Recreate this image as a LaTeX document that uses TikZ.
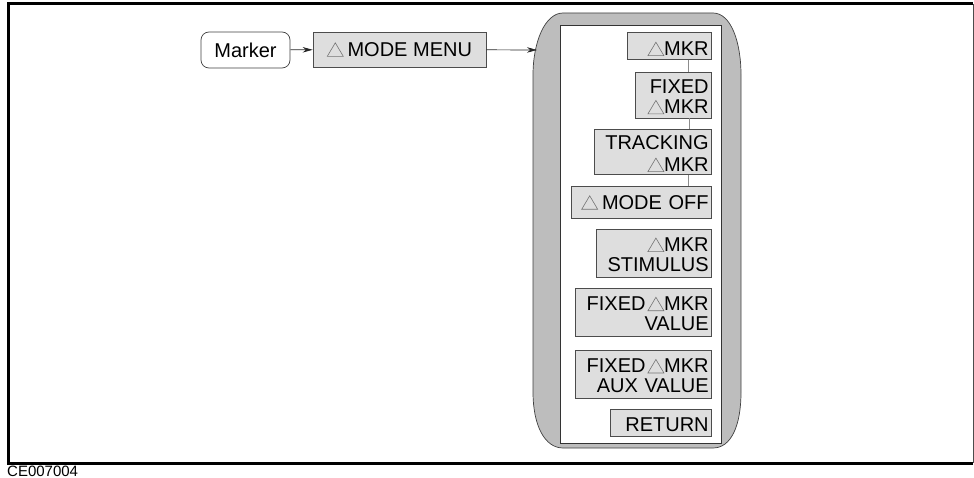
\documentclass[tikz,border=0pt]{standalone}
\usepackage{fontspec}
\setmainfont{Liberation Sans}
\usetikzlibrary{arrows.meta, positioning}

% outlined delta used in the key labels
\newcommand{\dtri}{\tikz[x=1pt,y=1pt,baseline=0pt]\draw[black!55,line width=0.6pt,fill=none] (0,0) -- (16,0) -- (8,13.5) -- cycle;}
\newcommand{\kstrut}[1]{\rule{0pt}{#1pt}}

\begin{document}
\begin{tikzpicture}[
  x=1pt, y=-1pt,
  font=\fontsize{20}{20}\selectfont,
  >={Stealth[length=10pt,width=5.5pt]},
  keybox/.style={rectangle, draw=black!70, fill=black!13, align=right, inner xsep=3pt, inner ysep=0pt, line width=0.7pt},
  hardkey/.style={rectangle, rounded corners=8pt, draw=black!75, fill=white, inner sep=0pt, minimum width=89pt, minimum height=36pt, line width=0.7pt},
  panel/.style={draw=black!75, fill=black!26, line width=0.7pt},
  a/.style={->, line width=0.7pt, black!85},
  link/.style={black!45, line width=0.8pt},
  node distance=11pt,
]
\useasboundingbox (0,0) rectangle (974,478);
% frame
\draw[line width=3pt] (973,463) -- (8,463) -- (8,4) -- (973,4);
\draw[line width=1pt, black!70] (973,4) -- (973,463);
% softkey panel
\draw[panel] (563,13) -- (713,13) .. controls (731,13) and (741,42) .. (741,75) -- (741,392) .. controls (741,426) and (731,448) .. (713,448) -- (563,448) .. controls (545,448) and (533,426) .. (533,392) -- (533,75) .. controls (533,42) and (545,13) .. (563,13) -- cycle;
\draw[draw=black!80, fill=white, line width=0.8pt] (560,25) rectangle (721,443);
\coordinate (panel) at (537,50);

\node[hardkey] (marker) at (245.5,50) {Marker};
\node[keybox, align=center, minimum width=173pt, minimum height=35pt] (modemenu) at (399.5,49.5) {\dtri\hspace{4pt}MODE MENU};

\node[keybox, anchor=north east, text width=78pt, minimum height=27pt] (mkr) at (712,32) {\kstrut{20}\dtri MKR};
\node[keybox, below left=12pt and 0pt of mkr.south east, text width=70pt, minimum height=46pt] (fixed) {\kstrut{18}FIXED\\\dtri MKR};
\node[keybox, below left=11pt and 0pt of fixed.south east, text width=111pt, minimum height=45pt] (tracking) {\kstrut{17}TRACKING\\[2pt]\dtri MKR};
\node[keybox, below left=11pt and 0pt of tracking.south east, text width=134pt, minimum height=32pt] (modeoff) {\dtri\hspace{4pt}MODE OFF};
\node[keybox, below left=10pt and 0pt of modeoff.south east, text width=109pt, minimum height=48pt] (stimulus) {\kstrut{17}\dtri MKR\\STIMULUS};
\node[keybox, below left=11pt and 0pt of stimulus.south east, text width=130pt, minimum height=47pt] (fixedval) {\kstrut{17}FIXED\hspace{2pt}\dtri MKR\\VALUE};
\node[keybox, below left=14pt and 0pt of fixedval.south east, text width=130pt, minimum height=48pt] (auxval) {\kstrut{17}FIXED\hspace{2pt}\dtri MKR\\AUX VALUE};
\node[keybox, below left=10pt and 0pt of auxval.south east, text width=95pt, minimum height=27pt] (return) {\kstrut{18}RETURN};

\node[font=\fontsize{15}{15}\selectfont, anchor=base west, inner sep=0pt] (code) at (7,476) {CE007004};

% arrows
\draw[a] (marker) -- (modemenu);
\draw[a] (modemenu) -- (panel);
\draw[link] ([xshift=-24pt]mkr.south east) -- ([xshift=-24pt]fixed.north east);
\draw[link] ([xshift=-23pt]fixed.south east) -- ([xshift=-23pt]tracking.north east);
\draw[link] ([xshift=-24pt]tracking.south east) -- ([xshift=-24pt]modeoff.north east);
\end{tikzpicture}
\end{document}
